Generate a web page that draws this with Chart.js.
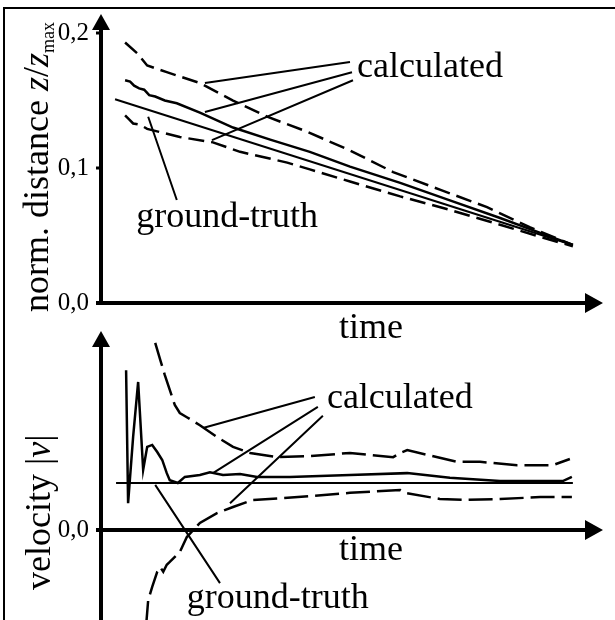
<!DOCTYPE html>
<html>
<head>
<meta charset="utf-8">
<script src="https://cdn.jsdelivr.net/npm/chart.js@4.4.0/dist/chart.umd.min.js"></script>
<style>
  html, body { margin: 0; padding: 0; background: #fff; }
  body { width: 615px; height: 620px; position: relative; overflow: hidden; }
  .frame { position: absolute; left: 3px; top: 7px; width: 620px; height: 620px; border-top: 2px solid #000; border-left: 2px solid #000; }
  .box { position: absolute; left: 0; width: 615px; }
  #top { top: 0; height: 345px; }
  #bottom { top: 300px; height: 320px; }
</style>
</head>
<body>
<div class="frame"></div>
<div class="box" id="top"><canvas id="distChart"></canvas></div>
<div class="box" id="bottom"><canvas id="velChart"></canvas></div>
<script>
// upper plot: normalised distance over time
var distTicks = [0, 0.1, 0.2];
var distTruthT = [2.8, 94.0];
var distTruthV = [0.151, 0.043];
var distHighT = [4.8, 7.2, 9.2, 13.1, 19.7, 26.3, 33.1, 41.0, 49.6, 58.2, 67.5, 76.9, 85.5, 94.0];
var distHighV = [0.193, 0.185, 0.176, 0.171, 0.163, 0.150, 0.138, 0.127, 0.113, 0.097, 0.084, 0.071, 0.056, 0.043];
var distMidT = [4.8, 5.8, 6.6, 7.6, 8.6, 9.6, 10.8, 12.7, 15.1, 19.7, 26.3, 33.7, 41.6, 49.6, 59.6, 69.5, 79.5, 87.5, 94.0];
var distMidV = [0.165, 0.164, 0.161, 0.159, 0.158, 0.154, 0.153, 0.150, 0.148, 0.141, 0.130, 0.121, 0.112, 0.101, 0.089, 0.076, 0.063, 0.052, 0.043];
var distLowT = [4.8, 5.6, 6.4, 7.8, 9.2, 15.7, 22.3, 27.7, 37.1, 41.6, 49.6, 59.6, 69.5, 79.5, 87.5, 94.0];
var distLowV = [0.139, 0.136, 0.133, 0.132, 0.129, 0.123, 0.119, 0.112, 0.104, 0.099, 0.090, 0.079, 0.069, 0.058, 0.049, 0.042];

// lower plot: velocity over time
var velTicks = [0];
var velTruthT = [3.0, 94.0];
var velTruthV = [1.0, 1.0];
var velMidT = [5.0, 5.4, 6.4, 7.4, 8.4, 9.2, 10.2, 11.2, 12.2, 13.1, 13.7, 15.3, 16.7, 19.7, 21.7, 24.3, 27.7, 31.1, 37.6, 49.6, 61.0, 69.5, 79.5, 92.0, 93.8];
var velMidV = [3.40, 0.57, 1.98, 3.15, 1.28, 1.77, 1.81, 1.66, 1.49, 1.21, 1.06, 1.00, 1.13, 1.17, 1.23, 1.17, 1.19, 1.13, 1.13, 1.17, 1.21, 1.11, 1.04, 1.04, 1.13];
var velHighT = [10.8, 11.8, 12.7, 13.7, 14.7, 15.7, 17.1, 19.7, 23.1, 26.3, 29.7, 35.1, 41.6, 49.6, 58.2, 59.6, 61.0, 70.9, 75.5, 82.9, 90.0, 93.4];
var velHighV = [3.98, 3.62, 3.30, 2.98, 2.66, 2.49, 2.40, 2.23, 1.98, 1.77, 1.64, 1.55, 1.57, 1.64, 1.55, 1.64, 1.70, 1.45, 1.45, 1.38, 1.38, 1.51];
var velLowT = [9.0, 9.4, 10.2, 11.2, 11.8, 12.4, 13.1, 13.7, 15.7, 17.1, 19.7, 23.1, 26.3, 30.3, 36.3, 41.6, 49.6, 59.6, 60.6, 67.5, 72.9, 79.5, 87.5, 93.8];
var velLowV = [-2.02, -1.49, -1.21, -0.89, -0.79, -0.89, -0.74, -0.68, -0.47, -0.15, 0.15, 0.36, 0.49, 0.64, 0.68, 0.72, 0.79, 0.85, 0.79, 0.66, 0.64, 0.66, 0.70, 0.70];

var serif = '"Liberation Serif", "Times New Roman", serif';

function pts(ts, vs) {
  return ts.map(function (t, i) { return { x: t, y: vs[i] }; });
}

function lineSet(ts, vs, dash, width) {
  return {
    data: pts(ts, vs),
    borderColor: "#000",
    borderWidth: width,
    borderDash: dash,
    pointRadius: 0,
    tension: 0,
    fill: false
  };
}

// axes with arrows, labels and leader lines, all placed through the scales
function sketchPlugin(notes, leaders, title) {
  return {
    id: "sketch",
    afterDraw: function (chart) {
      var ctx = chart.ctx, a = chart.chartArea;
      var xs = chart.scales.x, ys = chart.scales.y;
      var y0 = ys.getPixelForValue(0);
      ctx.save();
      ctx.fillStyle = "#000";
      ctx.strokeStyle = "#000";
      ctx.setLineDash([]);

      ctx.lineWidth = 4;
      ctx.beginPath();
      ctx.moveTo(a.left, a.bottom);
      ctx.lineTo(a.left, a.top + 14);
      ctx.moveTo(a.left - 5, y0);
      ctx.lineTo(a.right - 16, y0);
      ctx.stroke();

      ctx.lineWidth = 3;
      ctx.beginPath();
      ys.ticks.forEach(function (t) {
        var py = ys.getPixelForValue(t.value);
        ctx.moveTo(a.left - 5, py);
        ctx.lineTo(a.left, py);
      });
      ctx.stroke();

      ctx.beginPath();
      ctx.moveTo(a.left, a.top);
      ctx.lineTo(a.left - 9, a.top + 16);
      ctx.lineTo(a.left + 9, a.top + 16);
      ctx.closePath();
      ctx.moveTo(a.right, y0);
      ctx.lineTo(a.right - 18, y0 - 10);
      ctx.lineTo(a.right - 18, y0 + 10);
      ctx.closePath();
      ctx.fill();

      ctx.lineWidth = 2;
      ctx.beginPath();
      leaders.forEach(function (l) {
        ctx.moveTo(xs.getPixelForValue(l[0]), ys.getPixelForValue(l[1]));
        ctx.lineTo(xs.getPixelForValue(l[2]), ys.getPixelForValue(l[3]));
      });
      ctx.stroke();

      ctx.font = "36px " + serif;
      ctx.textBaseline = "alphabetic";
      notes.forEach(function (n) {
        ctx.textAlign = n.align;
        ctx.fillText(n.text, xs.getPixelForValue(n.t), ys.getPixelForValue(n.v));
      });

      // rotated axis title made of mixed runs
      ctx.translate(a.left - title.dx, title.fromBottom ? a.bottom - title.y : y0 + title.y);
      ctx.rotate(-Math.PI / 2);
      ctx.textAlign = "left";
      var x = 0;
      title.parts.forEach(function (p) {
        ctx.font = p.font;
        ctx.fillText(p.text, x, p.dy || 0);
        x += ctx.measureText(p.text).width;
      });
      ctx.restore();
    }
  };
}

function makeChart(id, datasets, yMin, yMax, ticks, pad, plugin) {
  return new Chart(document.getElementById(id), {
    type: "line",
    data: { datasets: datasets },
    options: {
      responsive: true,
      maintainAspectRatio: false,
      animation: false,
      layout: { padding: pad },
      plugins: { legend: { display: false }, tooltip: { enabled: false } },
      scales: {
        x: { type: "linear", display: false, min: 0, max: 100 },
        y: {
          type: "linear",
          min: yMin,
          max: yMax,
          grid: { display: false, drawTicks: false },
          border: { display: false },
          afterBuildTicks: function (scale) {
            scale.ticks = ticks.map(function (v) { return { value: v }; });
          },
          afterFit: function (scale) {
            scale.width = 101;
            scale.paddingTop = 0;
            scale.paddingBottom = 0;
          },
          ticks: {
            color: "#000",
            padding: 12,
            font: { family: serif, size: 25 },
            callback: function (v) { return v.toFixed(1).replace(".", ","); }
          }
        }
      }
    },
    plugins: [plugin]
  });
}

makeChart("distChart", [
  lineSet(distTruthT, distTruthV, [], 2),
  lineSet(distHighT, distHighV, [16, 7], 2.5),
  lineSet(distMidT, distMidV, [], 2.5),
  lineSet(distLowT, distLowV, [16, 7], 2.5)
], 0, 0.2141, distTicks, { left: 0, top: 14, right: 12, bottom: 42 },
  sketchPlugin(
    [
      { text: "calculated", t: 51.0, v: 0.1674, align: "left" },
      { text: "ground-truth", t: 7.0, v: 0.0563, align: "left" },
      { text: "time", t: 53.8, v: -0.026, align: "center" }
    ],
    [
      [49.6, 0.1785, 20.7, 0.163],
      [50.0, 0.171, 20.7, 0.1415],
      [50.2, 0.165, 22.1, 0.1207],
      [9.4, 0.138, 15.1, 0.0763]
    ],
    {
      dx: 53, y: 9, fromBottom: false,
      parts: [
        { text: "norm. distance ", font: "36px " + serif },
        { text: "z", font: "italic 36px " + serif },
        { text: "/", font: "36px " + serif },
        { text: "z", font: "italic 36px " + serif },
        { text: "max", font: "18px " + serif, dy: 6 }
      ]
    }
  ));

makeChart("velChart", [
  lineSet(velTruthT, velTruthV, [], 2),
  lineSet(velHighT, velHighV, [24, 7], 2.5),
  lineSet(velMidT, velMidV, [], 2.5),
  lineSet(velLowT, velLowV, [24, 7], 2.5)
], -1.915, 4.234, velTicks, { left: 0, top: 31, right: 12, bottom: 0 },
  sketchPlugin(
    [
      { text: "calculated", t: 45.0, v: 2.60, align: "left" },
      { text: "ground-truth", t: 17.1, v: -1.66, align: "left" },
      { text: "time", t: 53.8, v: -0.64, align: "center" }
    ],
    [
      [42.6, 2.83, 20.3, 2.17],
      [43.2, 2.62, 22.3, 1.21],
      [44.2, 2.43, 25.7, 0.57],
      [10.8, 0.96, 23.7, -1.13]
    ],
    {
      dx: 51, y: 30, fromBottom: true,
      parts: [
        { text: "velocity |", font: "36px " + serif },
        { text: "v", font: "italic 36px " + serif },
        { text: "|", font: "36px " + serif }
      ]
    }
  ));
</script>
</body>
</html>
